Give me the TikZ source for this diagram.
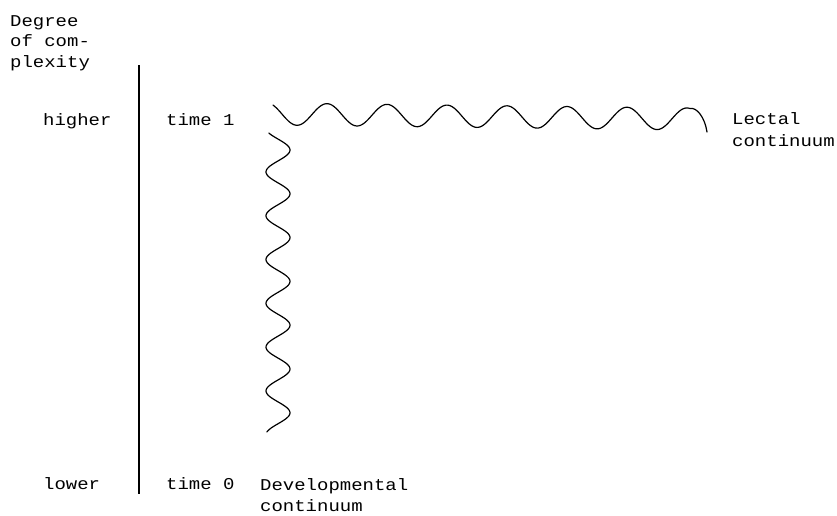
\documentclass[tikz,border=0pt]{standalone}
\usepackage{fontspec}
\newfontfamily\labelfont{Liberation Mono}[FakeStretch=1.15]
\begin{document}
\begin{tikzpicture}[x=1pt,y=-1pt,
  lbl/.style={font=\labelfont\fontsize{16.5}{20.5}\selectfont, inner sep=0pt, align=left},
  wave/.style={line width=1.2pt, line join=round, line cap=round},
  axis/.style={line width=1.4pt}]
\useasboundingbox (0,0) rectangle (837,515);

% labels
\node[lbl, anchor=north west] (degree) at (10,15) {Degree\\of com-\\plexity};
\node[lbl, anchor=base west] (higher) at (43,125) {higher};
\node[lbl, anchor=base west] (time1) at (166,125) {time 1};
\node[lbl, anchor=north west] (lectal) at (732,112) {Lectal\\[1.5pt]continuum};
\node[lbl, anchor=base west] (lower) at (43,489) {lower};
\node[lbl, anchor=base west] (time0) at (166,489) {time 0};
\node[lbl, anchor=north west] (devel) at (260,478) {Developmental\\[0.5pt]continuum};

% vertical axis
\coordinate (axtop) at (139,65);
\coordinate (axbot) at (139,494);
\draw[axis] (axtop) -- (axbot);

% lectal continuum (horizontal wave)
\draw[wave] plot[domain=273:690, samples=220, smooth, variable=\t]
  (\t, {114 + 5*(\t-273)/420 - 11*cos(6*(\t-327))})
  .. controls (697,107) and (705,118) .. (707,132);

% developmental continuum (vertical wave)
\draw[wave] plot[domain=133:432, samples=220, smooth, variable=\t]
  ({278+12*cos(8.219*(\t-150))}, \t);
\end{tikzpicture}
\end{document}
